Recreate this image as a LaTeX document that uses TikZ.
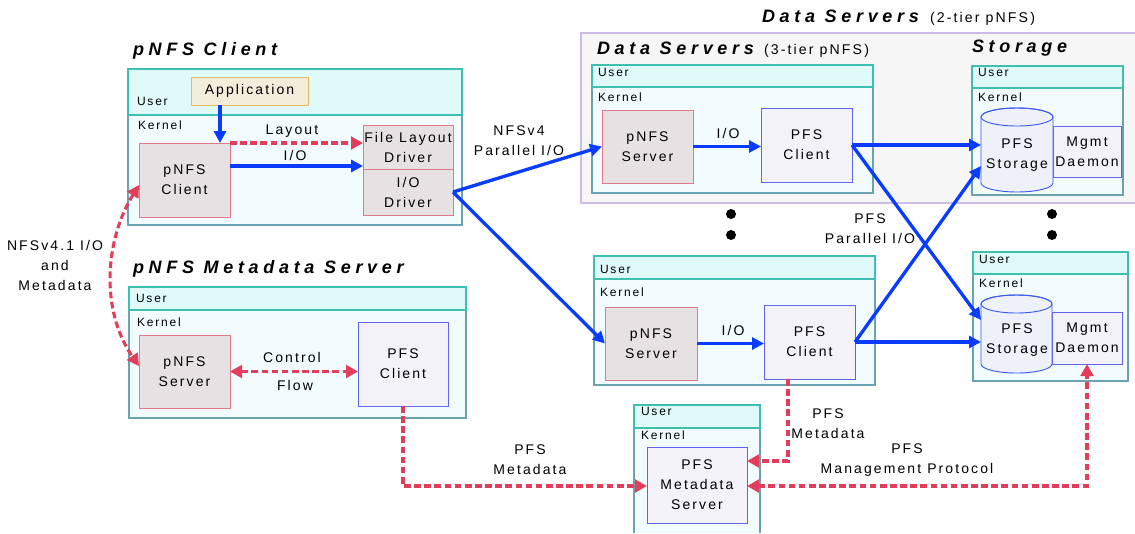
\documentclass[tikz,border=0pt]{standalone}
\usepackage{fontspec}
\setmainfont{Liberation Sans}[LetterSpace=15]
\newfontfamily\ttlfont{Liberation Sans}[LetterSpace=26]
\usetikzlibrary{arrows.meta}
\definecolor{userfill}{HTML}{E0F9F9}
\definecolor{userline}{HTML}{3DBFB2}
\definecolor{kernfill}{HTML}{F2FBFD}
\definecolor{kernline}{HTML}{6AA3B0}
\definecolor{pnfsfill}{HTML}{E6E2E3}
\definecolor{pnfsline}{HTML}{E27A8B}
\definecolor{pfsfill}{HTML}{F2F2F8}
\definecolor{pfsline}{HTML}{6262F2}
\definecolor{appfill}{HTML}{F3EDDC}
\definecolor{appline}{HTML}{EAB85E}
\definecolor{arrblue}{HTML}{0A3CFF}
\definecolor{arrred}{HTML}{E23D5B}
\definecolor{lav}{HTML}{CDBBE8}
\definecolor{bgfill}{HTML}{F6F6F6}
\definecolor{cylfill}{HTML}{EEF1FA}
\definecolor{cylline}{HTML}{3C5AF0}
\newcommand\mybox[7]{%
  \pgfmathsetmacro\bw{(#5-#3)*0.75}\pgfmathsetmacro\bh{(#6-#4)*0.75}%
  \node[#2, minimum width=\bw pt, minimum height=\bh pt] (#1) at ({(#3+#5)/2},{(#4+#6)/2}) {#7};}
\begin{document}
\begin{tikzpicture}[x=0.75pt,y=-0.75pt,
  every node/.style={inner sep=0pt, outer sep=0pt},
  txt/.style={font=\fontsize{10.5}{15}\selectfont, align=center},
  small/.style={font=\fontsize{9}{11}\selectfont, anchor=base west},
  paren/.style={font=\fontsize{10.6}{12}\selectfont, anchor=base west},
  title/.style={font=\ttlfont\fontsize{13.5}{16}\selectfont\bfseries\itshape, anchor=base west},
  usr/.style={draw=userline, fill=userfill, line width=0.9pt},
  kern/.style={draw=kernline, fill=kernfill, line width=0.9pt},
  pnfsb/.style={draw=pnfsline, fill=pnfsfill, line width=0.65pt, txt},
  pfsb/.style={draw=pfsline, fill=pfsfill, line width=0.65pt, txt},
  appb/.style={draw=appline, fill=appfill, line width=0.65pt, txt},
  ghost/.style={},
  barrow/.style={draw=arrblue, line width=2.5pt, -{Triangle[length=9pt,width=9pt]}},
  rarrow/.style={draw=arrred, line width=2.3pt, dash pattern=on 5pt off 2.6pt, -{Triangle[length=9pt,width=9.5pt]}},
  rdbl/.style={draw=arrred, line width=2.3pt, dash pattern=on 5pt off 2.6pt, {Triangle[length=9pt,width=9.5pt]}-{Triangle[length=9pt,width=9.5pt]}},
  dot/.style={circle, fill=black, minimum size=7.5pt}
]
\useasboundingbox (0,0) rectangle (1135,533);
\fill[white] (0,0) rectangle (1135,533);

% 2-tier background
\fill[bgfill] (581,33) rectangle (1136,203);
\draw[lav, line width=2.2pt] (1136,33) -- (581,33) -- (581,203) -- (1136,203);

% titles
\node[title] (t1) at (133,55) {pNFS Client};
\node[title] (t2) at (133,273) {pNFS Metadata Server};
\node[title] (t3) at (762,22) {Data Servers};
\node[paren] (t3b) at (930,22) {(2-tier pNFS)};
\node[title] (t4) at (597,54) {Data Servers};
\node[paren] (t4b) at (764,54) {(3-tier pNFS)};
\node[title] (t5) at (972,52) {Storage};

% pNFS client
\mybox{ck}{kern}{128}{115}{462}{225}{}
\mybox{cu}{usr}{128}{69}{462}{115}{}
\node[small] (cul) at (137,105) {User};
\node[small] (ckl) at (138,129) {Kernel};
\mybox{app}{appb}{191}{77}{308}{105}{Application}
\mybox{pc}{pnfsb}{139}{143}{230}{217}{pNFS\\Client}
\mybox{fld}{pnfsb}{363}{125}{453}{169}{File Layout\\Driver}
\mybox{iod}{pnfsb}{363}{169}{453}{215}{I/O\\Driver}

% metadata server
\mybox{mk}{kern}{129}{310}{466}{418}{}
\mybox{mu}{usr}{129}{287}{466}{310}{}
\node[small] (mul) at (136,302) {User};
\node[small] (mkl) at (137,326) {Kernel};
\mybox{mps}{pnfsb}{139}{335}{230}{408}{pNFS\\Server}
\mybox{mpc}{pfsb}{358}{322}{448}{406}{PFS\\Client}

% data server 1
\mybox{d1k}{kern}{592}{87}{873}{193}{}
\mybox{d1u}{usr}{592}{65}{873}{87}{}
\node[small] (d1ul) at (598,76) {User};
\node[small] (d1kl) at (598,101) {Kernel};
\mybox{d1ps}{pnfsb}{602}{110}{693}{183}{pNFS\\Server}
\mybox{d1pc}{pfsb}{761}{108}{852}{182}{PFS\\Client}

% storage 1
\mybox{s1k}{kern}{972}{88}{1123}{195}{}
\mybox{s1u}{usr}{972}{66}{1123}{88}{}
\node[small] (s1ul) at (978,76) {User};
\node[small] (s1kl) at (978,101) {Kernel};
\mybox{md1}{pfsb}{1053}{126}{1121}{177}{Mgmt\\Daemon}
\mybox{cy1}{ghost}{981}{108}{1053}{192}{}
\filldraw[fill=cylfill, draw=cylline, line width=0.7pt]
  (981,117) -- (981,183) arc[start angle=180, end angle=0, x radius=36, y radius=9]
  -- (1053,117) arc[start angle=0, end angle=-180, x radius=36, y radius=9] -- cycle;
\draw[cylline, line width=0.7pt] (1017,117) ellipse [x radius=36, y radius=9];
\node[txt] (cy1t) at (1017,155) {PFS\\Storage};

% data server 2
\mybox{d2k}{kern}{594}{279}{875}{385}{}
\mybox{d2u}{usr}{594}{256}{875}{279}{}
\node[small] (d2ul) at (600,273) {User};
\node[small] (d2kl) at (600,296) {Kernel};
\mybox{d2ps}{pnfsb}{605}{307}{697}{380}{pNFS\\Server}
\mybox{d2pc}{pfsb}{764}{305}{855}{379}{PFS\\Client}

% storage 2
\mybox{s2k}{kern}{973}{274}{1128}{381}{}
\mybox{s2u}{usr}{973}{252}{1128}{274}{}
\node[small] (s2ul) at (979,263) {User};
\node[small] (s2kl) at (979,287) {Kernel};
\mybox{md2}{pfsb}{1052}{312}{1122}{364}{Mgmt\\Daemon}
\mybox{cy2}{ghost}{981}{295}{1052}{373}{}
\filldraw[fill=cylfill, draw=cylline, line width=0.7pt]
  (981,304) -- (981,364) arc[start angle=180, end angle=0, x radius=35.5, y radius=9]
  -- (1052,304) arc[start angle=0, end angle=-180, x radius=35.5, y radius=9] -- cycle;
\draw[cylline, line width=0.7pt] (1016.5,304) ellipse [x radius=35.5, y radius=9];
\node[txt] (cy2t) at (1017,340) {PFS\\Storage};

% PFS metadata server
\fill[kernfill] (634,428) rectangle (760,533);
\draw[kernline, line width=0.9pt] (634,533) -- (634,428) -- (760,428) -- (760,533);
\mybox{pu}{usr}{634}{405}{760}{428}{}
\node[small] (pul) at (641,415) {User};
\node[small] (pkl) at (641,439) {Kernel};
\mybox{pmds}{pfsb}{647}{447}{747}{523}{PFS\\Metadata\\Server}

% dots
\node[dot] (dt1) at (731,214) {};
\node[dot] (dt2) at (731,235) {};
\node[dot] (dt3) at (1052,214) {};
\node[dot] (dt4) at (1052,235) {};

% blue arrows
\draw[barrow] (app.south -| 220,0) -- (pc.north -| 220,0);
\draw[barrow] (pc.east |- 0,166) -- (fld.west |- 0,166);
\draw[barrow] (iod.east) -- (d1ps.west);
\draw[barrow] (iod.east) -- (d2ps.west);
\draw[barrow] (d1ps.east) -- (d1ps.east -| d1pc.west);
\draw[barrow] (d2ps.east) -- (d2ps.east -| d2pc.west);
\draw[barrow] (d1pc.east) -- (d1pc.east -| cy1.west);
\draw[barrow] (d1pc.east) -- (cy2.west |- 0,320);
\draw[barrow] (d2pc.east) -- (d2pc.east -| cy2.west);
\draw[barrow] (d2pc.east) -- (cy1.west |- 0,166);

% red dashed arrows
\draw[rarrow] (pc.north east) -- (pc.north east -| fld.west);
\draw[rdbl] (pc.west |- 0,185) .. controls (105,240) and (100,310) .. (mps.west |- 0,366);
\draw[rdbl] (mps.east) -- (mps.east -| mpc.west);
\draw[rarrow] (mpc.south) |- (pmds.west |- 0,486);
\draw[rarrow] (d2pc.south -| 788,0) |- (pmds.east |- 0,461);
\draw[rdbl] (pmds.east |- 0,486) -| (md2.south);

% labels
\node[txt] (l1) at (292,131) {Layout};
\node[txt] (l2) at (295,155) {I/O};
\node[txt] (l3) at (55,265) {NFSv4.1 I/O\\and\\Metadata};
\node[txt] (l4) at (292,357) {Control};
\node[txt] (l5) at (295,385) {Flow};
\node[txt] (l6) at (519,141) {NFSv4\\Parallel I/O};
\node[txt] (l7) at (728,133) {I/O};
\node[txt] (l8) at (733,330) {I/O};
\node[txt] (l9) at (870,229) {PFS\\Parallel I/O};
\node[txt] (l10) at (530,460) {PFS\\Metadata};
\node[txt] (l11) at (828,424) {PFS\\Metadata};
\node[txt] (l12) at (907,460) {PFS\\Management Protocol};
\end{tikzpicture}
\end{document}
